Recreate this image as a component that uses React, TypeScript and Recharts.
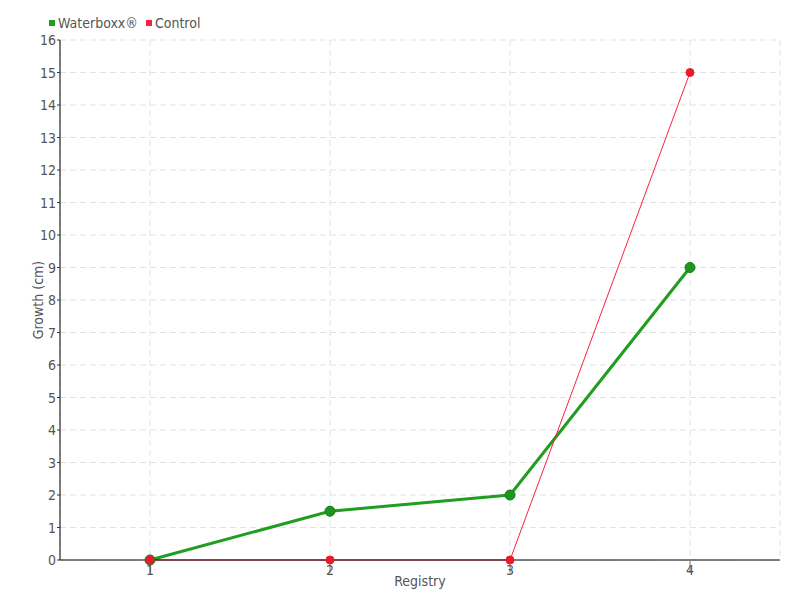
import React from 'react';
import { LineChart, Line, XAxis, YAxis, CartesianGrid, Label } from 'recharts';

const categories = ['1', '2', '3', '4'];
const waterboxx = [0, 1.5, 2, 9];
const control = [0, 0, 0, 15];
const yTicks = [0, 1, 2, 3, 4, 5, 6, 7, 8, 9, 10, 11, 12, 13, 14, 15, 16];
const seriesNames = ['Waterboxx®', 'Control'];

const data = categories.map((c, i) => ({ registry: c, Waterboxx: waterboxx[i], Control: control[i] }));

const FONT = '"Liberation Sans Narrow", "DejaVu Sans Condensed", sans-serif';
const TXT = '#555';
const GREEN = '#1f9e1f';
const RED = '#ff1f3c';

const XTick = (props: any) => {
  const { x, payload } = props;
  return (
    <text x={x} y={575} textAnchor="middle" fontFamily={FONT} fontSize={14} fill={TXT}>
      {payload.value}
    </text>
  );
};

const YTick = (props: any) => {
  const { y, payload } = props;
  return (
    <text x={56} y={y + 5} textAnchor="end" fontFamily={FONT} fontSize={14} fill={TXT}>
      {payload.value}
    </text>
  );
};

const LegendBox = () => (
  <div style={{ position: 'absolute', left: 49, top: 15, display: 'flex', alignItems: 'center', fontFamily: FONT, fontSize: 14, color: TXT }}>
    <span style={{ display: 'inline-block', width: 6, height: 6, background: GREEN, marginRight: 3 }} />
    <span style={{ marginRight: 8 }}>{seriesNames[0]}</span>
    <span style={{ display: 'inline-block', width: 6, height: 6, background: RED, marginRight: 3 }} />
    <span>{seriesNames[1]}</span>
  </div>
);

export default function App() {
  return (
    <div style={{ position: 'absolute', left: 0, top: 0, width: 800, height: 600, background: '#fff' }}>
      <LineChart width={800} height={600} data={data} margin={{ top: 40, right: 20, left: 0, bottom: 0 }}>
        <CartesianGrid stroke="#e2e2e2" strokeDasharray="6 4" />
        <XAxis
          dataKey="registry"
          padding={{ left: 90, right: 90 }}
          height={40}
          axisLine={{ stroke: '#000' }}
          tickLine={{ stroke: '#777' }}
          tickSize={13}
          tick={<XTick />}
          interval={0}
        >
          <Label value="Registry" position="insideBottom" offset={14} style={{ fontFamily: FONT, fontSize: 14, fill: TXT }} />
        </XAxis>
        <YAxis
          width={60}
          domain={[0, 16]}
          ticks={yTicks}
          interval={0}
          axisLine={{ stroke: '#000' }}
          tickLine={{ stroke: '#333' }}
          tickSize={3}
          tick={<YTick />}
        >
          <Label value="Growth (cm)" angle={-90} position="insideLeft" offset={38} style={{ textAnchor: 'middle', fontFamily: FONT, fontSize: 14, fill: TXT }} />
        </YAxis>
        <Line
          dataKey="Waterboxx"
          name={seriesNames[0]}
          stroke={GREEN}
          strokeWidth={3}
          dot={{ r: 5, fill: '#1e961e', stroke: '#187818', strokeWidth: 1 }}
          isAnimationActive={false}
        />
        <Line
          dataKey="Control"
          name={seriesNames[1]}
          stroke={RED}
          strokeWidth={1}
          dot={{ r: 4, fill: '#ea1a2c', stroke: '#ea1a2c', strokeWidth: 1 }}
          isAnimationActive={false}
        />
      </LineChart>
      <LegendBox />
    </div>
  );
}
